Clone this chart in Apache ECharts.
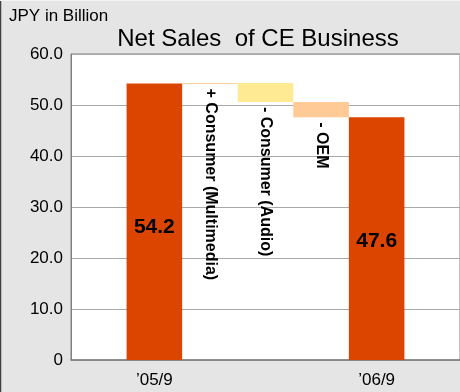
<!DOCTYPE html>
<html>
<head>
<meta charset="utf-8">
<script src="https://cdn.jsdelivr.net/npm/echarts@6/dist/echarts.min.js"></script>
<style>
  html, body { margin: 0; padding: 0; background: #E5E5E5; }
  #chart { width: 460px; height: 392px; }
</style>
</head>
<body>
<div id="chart"></div>
<script>
// Waterfall of net sales: opening total, three changes, closing total
const categories = ['', '’05/9', 'mm', 'audio', 'oem', '’06/9', ''];
const tickLabels = ['', '’05/9', '', '', '', '’06/9', ''];
const startValue = 54.2;
const endValue = 47.6;
const changes = [0.1, -3.7, -3.0];
const changeLabels = ['+ Consumer (Multimedia)', '- Consumer (Audio)', '- OEM'];
const yTicks = { min: 0, max: 60, interval: 10 };

const FONT = '"Liberation Sans", Arial, sans-serif';
const totalColor = '#DC4500';
const changeColors = ['#F2A93B', '#FFEA94', '#FFCA96'];

// Floating bases and visible heights for each category
const baseData = ['-'];
const barData = ['-'];
baseData.push(0);
barData.push({ value: startValue, itemStyle: { color: totalColor }, label: { show: true, offset: [0, 5] } });
let level = startValue;
changes.forEach((d, i) => {
  const lo = d >= 0 ? level : level + d;
  level += d;
  baseData.push({
    value: lo,
    label: {
      show: true, formatter: changeLabels[i], position: 'insideTop', distance: 5,
      rotate: -90, align: 'left', verticalAlign: 'middle',
      color: '#000', fontWeight: 'bold', fontSize: 16, fontFamily: FONT
    }
  });
  barData.push({ value: Math.abs(d), itemStyle: { color: changeColors[i] } });
});
baseData.push(0);
barData.push({ value: endValue, itemStyle: { color: totalColor }, label: { show: true, offset: [0, 3] } });
baseData.push('-');
barData.push('-');

const chart = echarts.init(document.getElementById('chart'), null, { renderer: 'canvas' });
chart.setOption({
  backgroundColor: '#E5E5E5',
  animation: false,
  title: [{
    text: 'Net Sales  of CE Business', left: 258, top: 27, textAlign: 'center', padding: 0,
    textStyle: { fontFamily: FONT, fontSize: 24, fontWeight: 'normal', color: '#000' }
  }, {
    text: 'JPY in Billion', left: 9, top: 8, padding: 0,
    textStyle: { fontFamily: FONT, fontSize: 17, fontWeight: 'normal', color: '#000' }
  }],
  grid: {
    left: 71, top: 54, width: 392, height: 306,
    show: true, backgroundColor: '#FFFFFF', borderColor: '#808080', borderWidth: 1
  },
  xAxis: {
    type: 'category', data: categories,
    axisTick: { show: false },
    axisLine: { lineStyle: { color: '#7F7F7F', width: 1.5 } },
    axisLabel: {
      interval: 0, margin: 12, formatter: (v, i) => tickLabels[i],
      fontFamily: FONT, fontSize: 17, color: '#000'
    }
  },
  yAxis: {
    type: 'value', min: yTicks.min, max: yTicks.max, interval: yTicks.interval,
    axisLine: { show: true, lineStyle: { color: '#808080' } },
    axisTick: { show: false },
    splitLine: { lineStyle: { color: '#A8A8A8', width: 1 } },
    axisLabel: {
      margin: 8, fontFamily: FONT, fontSize: 17, color: '#000',
      formatter: v => (v === 0 ? '0' : v.toFixed(1))
    }
  },
  series: [{
    type: 'bar', stack: 'w', data: baseData,
    barWidth: '100%', barCategoryGap: 0,
    itemStyle: { color: 'transparent' }, silent: true
  }, {
    type: 'bar', stack: 'w', data: barData,
    barWidth: '100%', barCategoryGap: 0,
    label: {
      show: false, position: 'inside',
      color: '#000', fontWeight: 'bold', fontSize: 21, fontFamily: FONT
    }
  }],
  graphic: [{
    type: 'line', shape: { x1: 0.5, y1: 0, x2: 0.5, y2: 392 },
    style: { stroke: '#404040', lineWidth: 1.5 }
  }, {
    type: 'line', shape: { x1: 0, y1: 0.5, x2: 460, y2: 0.5 },
    style: { stroke: '#F4F4F4', lineWidth: 1 }
  }]
});
</script>
</body>
</html>
